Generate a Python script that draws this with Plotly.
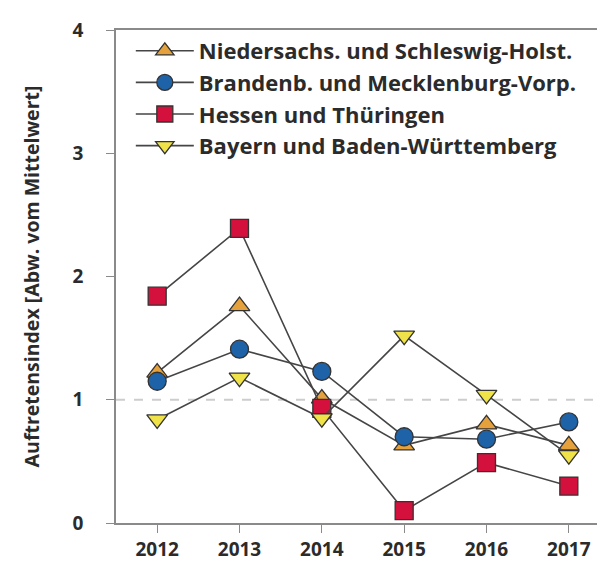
import plotly.graph_objects as go

years = [2012, 2013, 2014, 2015, 2016, 2017]
names = ["Niedersachs. und Schleswig-Holst.",
         "Brandenb. und Mecklenburg-Vorp.",
         "Hessen und Thüringen",
         "Bayern und Baden-Württemberg"]
nds_sh = [1.22, 1.76, 1.01, 0.63, 0.80, 0.63]
bb_mv = [1.15, 1.41, 1.23, 0.70, 0.68, 0.82]
he_th = [1.84, 2.39, 0.93, 0.10, 0.49, 0.30]
by_bw = [0.84, 1.18, 0.85, 1.52, 1.04, 0.55]
y_ticks = [0, 1, 2, 3, 4]

series = [nds_sh, bb_mv, he_th, by_bw]
symbols = ["triangle-up", "circle", "square", "triangle-down"]
colors = ["#E5A23C", "#1E62A8", "#D4103C", "#F0E34A"]

FAM = "Open Sans, Noto Sans, sans-serif"

fig = go.Figure()
fig.add_shape(type="line", xref="paper", x0=0, x1=1, yref="y", y0=1, y1=1,
              line=dict(color="#CDCDCD", width=2, dash="dash"), layer="below")
for name, vals, sym, col in zip(names, series, symbols, colors):
    fig.add_trace(go.Scatter(
        x=years, y=vals, name=name, mode="lines+markers",
        line=dict(color="#454545", width=1.6),
        marker=dict(symbol=sym, size=18, color=col,
                    line=dict(color="#333333", width=1.3)),
    ))

fig.update_layout(
    width=605, height=564,
    margin=dict(l=108, r=3, t=22, b=49),
    paper_bgcolor="white", plot_bgcolor="white",
    font=dict(family=FAM, size=18, color="#2b2b2b", weight=700),
    showlegend=True,
    legend=dict(x=0.03, y=1.0, xanchor="left", yanchor="top",
                bgcolor="rgba(255,255,255,0)",
                font=dict(family=FAM, size=22, color="#2b2b2b", weight=700),
                itemwidth=58, tracegroupgap=0),
    xaxis=dict(range=[2011.5, 2017.5], tickvals=years, ticktext=[str(y) for y in years],
               showgrid=False, zeroline=False, showline=True, linecolor="#8a8a8a",
               linewidth=1.5, mirror=True, ticks="outside", ticklen=8,
               tickcolor="#8a8a8a", tickwidth=1.2,
               tickfont=dict(family=FAM, size=19, color="#2b2b2b", weight=700),
               automargin=False),
    yaxis=dict(range=[0, 4], tickvals=y_ticks, showgrid=False, zeroline=False,
               showline=True, linecolor="#8a8a8a", linewidth=1.5, mirror=True,
               ticks="outside", ticklen=8, tickcolor="#8a8a8a", tickwidth=1.2,
               tickfont=dict(family=FAM, size=19, color="#2b2b2b", weight=700),
               ticklabelstandoff=19, automargin=False,
               title=dict(text="Auftretensindex [Abw. vom Mittelwert]", standoff=28,
                          font=dict(family=FAM, size=19.5, color="#2b2b2b", weight=700))),
)
fig.write_html("out.html")
